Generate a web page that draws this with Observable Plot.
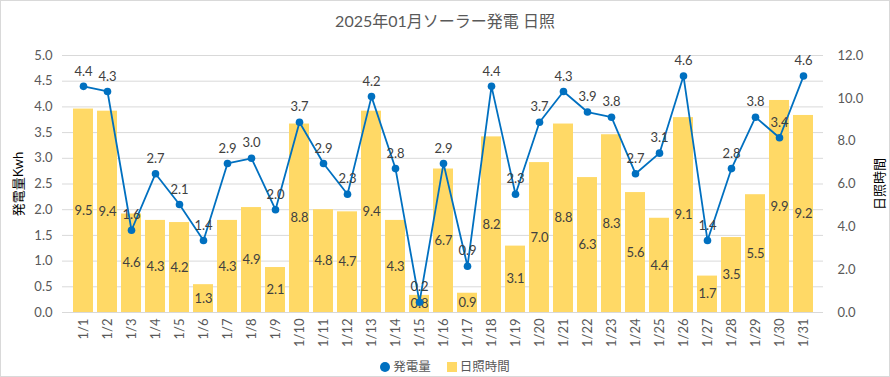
<!DOCTYPE html>
<html>
<head>
<meta charset="utf-8">
<script src="https://cdn.jsdelivr.net/npm/d3@7"></script>
<script src="https://cdn.jsdelivr.net/npm/@observablehq/plot@0.6"></script>
<style>
  html, body { margin: 0; padding: 0; background: #fff; }
  #wrap { position: relative; width: 890px; height: 377px; box-sizing: border-box; border: 1px solid #d9d9d9; font-family: Lato, "Noto Sans CJK JP", sans-serif; overflow: hidden; }
  #title { height: 39px; line-height: 40px; text-align: center; font-size: 16px; color: #595959; }
  #legend { display: flex; justify-content: center; align-items: center; gap: 16px; font-size: 12.5px; color: #595959; margin-top: 0px; }
  .sw { display: inline-block; margin-right: 3px; vertical-align: -1px; }
</style>
</head>
<body>
<div id="wrap">
  <div id="title">2025年01月ソーラー発電 日照</div>
  <div id="chart"></div>
  <div id="legend">
    <span><span class="sw" style="width:10px;height:10px;border-radius:50%;background:#0070C0"></span>発電量</span>
    <span><span class="sw" style="width:10px;height:10px;background:#FFD966"></span>日照時間</span>
  </div>
</div>
<script>
const days = ["1/1","1/2","1/3","1/4","1/5","1/6","1/7","1/8","1/9","1/10","1/11","1/12","1/13","1/14","1/15","1/16","1/17","1/18","1/19","1/20","1/21","1/22","1/23","1/24","1/25","1/26","1/27","1/28","1/29","1/30","1/31"];
const power = [4.4,4.3,1.6,2.7,2.1,1.4,2.9,3.0,2.0,3.7,2.9,2.3,4.2,2.8,0.2,2.9,0.9,4.4,2.3,3.7,4.3,3.9,3.8,2.7,3.1,4.6,1.4,2.8,3.8,3.4,4.6];
const sunshine = [9.5,9.4,4.6,4.3,4.2,1.3,4.3,4.9,2.1,8.8,4.8,4.7,9.4,4.3,0.8,6.7,0.9,8.2,3.1,7.0,8.8,6.3,8.3,5.6,4.4,9.1,1.7,3.5,5.5,9.9,9.2];
const leftTicks = [0,0.5,1,1.5,2,2.5,3,3.5,4,4.5,5];
const rightTicks = [0,2,4,6,8,10,12];
const leftMax = 5, rightMax = 12;
const k = leftMax / rightMax;

const data = days.map((d, i) => ({day: d, power: power[i], sun: sunshine[i]}));

const grey = "#595959";
const chart = Plot.plot({
  width: 888,
  height: 316,
  marginLeft: 61,
  marginRight: 66,
  marginTop: 15,
  marginBottom: 44,
  style: {fontFamily: 'Lato, "Noto Sans CJK JP", sans-serif', fontSize: "13px", color: grey, background: "#fff"},
  x: {type: "band", domain: days, paddingInner: 0.17, paddingOuter: 0.09},
  y: {domain: [0, leftMax]},
  marks: [
    Plot.gridY(leftTicks, {stroke: "#d9d9d9", strokeOpacity: 1}),
    Plot.barY(data, {x: "day", y: d => d.sun * k, fill: "#FFD966"}),
    Plot.ruleY([0], {stroke: "#d9d9d9"}),
    Plot.text(data, {x: "day", y: d => d.sun * k / 2, text: d => d.sun.toFixed(1), fill: "#404040", fontSize: 13}),
    Plot.line(data, {x: "day", y: "power", stroke: "#0070C0", strokeWidth: 1.8}),
    Plot.dot(data, {x: "day", y: "power", r: 3.8, fill: "#0070C0", stroke: "none"}),
    Plot.text(data, {x: "day", y: "power", text: d => d.power.toFixed(1), dy: -15, fill: "#404040", fontSize: 13}),
    Plot.axisY(leftTicks, {anchor: "left", tickSize: 0, tickPadding: 10, tickFormat: d => d.toFixed(1), fill: grey, label: null}),
    Plot.axisY(rightTicks.map(v => v * k), {anchor: "right", tickSize: 0, tickPadding: 14, tickFormat: d => (d / k).toFixed(1), fill: grey, label: null}),
    Plot.axisX({tickSize: 0, tickPadding: 6, tickRotate: -90, fill: grey, label: null}),
    Plot.text(["発電量Kwh"], {frameAnchor: "left", textAnchor: "middle", dx: -44, rotate: -90, fill: "#000", fontSize: 13}),
    Plot.text(["日照時間"], {frameAnchor: "right", textAnchor: "middle", dx: 56, rotate: -90, fill: "#000", fontSize: 13})
  ]
});
document.getElementById("chart").appendChild(chart);
</script>
</body>
</html>
